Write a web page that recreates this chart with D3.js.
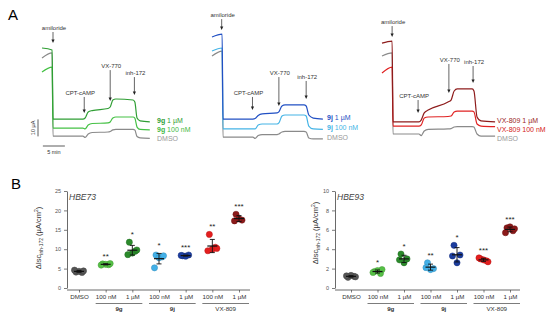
<!DOCTYPE html>
<html lang="en">
<head>
<meta charset="UTF-8">
<title>Isc traces and inh-172 sensitive currents</title>
<script src="https://cdn.jsdelivr.net/npm/d3@7"></script>
<style>
    body { margin: 0; background: #fff; }
    text { font-family: Arial, "Liberation Sans", sans-serif; }
</style>
</head>
<body>
<script>
    // ---- panel A : traces, time in min, current in uA ----
    var times9g = [0, 2.3, 2.5, 9.3, 9.8, 10.5, 11.4, 15, 15.5, 16.1, 16.8, 20.7, 21.1, 21.6, 22.3, 24.5];
    var cur9g1 = [60, 58.8, 18.2, 18.2, 18.8, 22.4, 23.2, 24.4, 25.3, 29.4, 30, 29.4, 28.2, 18.8, 17.1, 16.5];
    var cur9g100 = [45.9, 48.8, 12.9, 12.9, 12.4, 14.7, 15.6, 15.9, 16.5, 18.8, 19.4, 19.4, 18.8, 13.5, 12.1, 11.8];
    var curDmso9g = [54.1, 57.1, 8.2, 8.2, 7.4, 9.4, 10.3, 10.6, 10.9, 11.8, 12.1, 12.1, 11.8, 7.9, 7.1, 6.8];

    var times9j = [0, 2.3, 2.5, 9.3, 9.8, 10.5, 11.4, 14.8, 15.2, 15.9, 16.6, 20.9, 21.4, 22, 23, 25.2];
    var cur9j1 = [66.5, 68.2, 18.2, 18.2, 18.5, 20.3, 21.2, 21.8, 22.4, 25.9, 26.5, 26.5, 25.9, 20.6, 18.8, 18.2];
    var cur9j100 = [58.2, 60, 12.4, 12.4, 12.4, 14.7, 15.3, 15.3, 15.9, 20, 20.6, 20.6, 20, 14.1, 12.4, 12.1];
    var curDmso9j = [55.3, 58.2, 7.6, 7.6, 6.8, 8.5, 9.1, 9.1, 9.4, 10.6, 10.9, 10.9, 10.6, 7.1, 6.5, 6.5];

    var timesVx = [0, 2.3, 2.5, 8.4, 8.9, 9.6, 10.5, 15, 15.7, 16.4, 17.1, 20.5, 20.9, 21.6, 22.5, 25.7];
    var curVx1 = [62.9, 64.1, 16.5, 16.5, 17.6, 21.8, 23.5, 28.2, 29.4, 34.7, 35.9, 35.9, 34.7, 19.4, 17.1, 16.5];
    var curVx100 = [45.3, 48.8, 14.1, 14.1, 14.7, 18.8, 19.4, 19.7, 20, 22.4, 22.9, 22.9, 22.4, 15.3, 14.1, 13.8];
    var curDmsoVx = [55.3, 57.1, 9.4, 9.4, 8.5, 11.2, 12.1, 12.4, 12.6, 13.5, 13.8, 13.8, 13.5, 9.4, 8.2, 8.2];

    // additions: time (min), arrow tip and tail (uA)
    var eventNames = ['amiloride', 'CPT-cAMP', 'VX-770', 'inh-172'];
    var events9g = [2.5, 9.6, 15.5, 21];
    var tips9g = [63, 21.8, 28.8, 32.4];
    var tails9g = [69.4, 31.2, 47, 42.9];
    var events9j = [2.2, 9.2, 15.2, 21.4];
    var tips9j = [70.6, 23.5, 25.9, 30];
    var tails9j = [77, 31.2, 42.9, 40.6];
    var eventsVx = [2.3, 8.2, 15.2, 20.7];
    var tipsVx = [66.5, 21.8, 33.5, 39.4];
    var tailsVx = [72.9, 29.4, 50.6, 49.4];

    // ---- panel B : delta Isc inh-172 (uA/cm2) ----
    var categories = ['DMSO', '100 nM', '1 \u00b5M', '100 nM', '1 \u00b5M', '100 nM', '1 \u00b5M'];
    var groupNames = ['9g', '9j', 'VX-809'];
    var hbe73 = [[4.1, 4.0, 4.3, 4.6, 4.4], [6.2, 6.0, 6.1, 5.9, 6.3], [11.8, 9.5, 9.0, 8.6, 9.8],
                 [8.5, 8.0, 7.8, 5.2, 8.3], [8.3, 8.5, 8.2, 8.4], [13.8, 10.5, 10.0, 9.6, 10.2], [19.0, 17.5, 17.8, 17.3]];
    var sig73 = ['', '**', '*', '*', '***', '**', '***'];
    var ticks73 = [0, 5, 10, 15, 20, 25];
    var hbe93 = [[1.1, 1.2, 1.3, 1.25, 1.15], [1.7, 1.5, 1.8, 1.6, 1.9], [3.5, 3.0, 2.6, 2.9],
                 [2.6, 2.0, 1.9, 2.1], [4.4, 3.4, 2.6, 3.3], [3.0, 2.8, 2.9, 3.1, 2.7], [6.2, 5.9, 6.3, 5.7, 6.1]];
    var sig93 = ['', '*', '*', '**', '*', '***', '***'];
    var ticks93 = [0, 2, 4, 6, 8, 10];

    var pointColors = ['#555555', '#55c045', '#2b8a2b', '#42b0e8', '#1c3d9e', '#e41e1e', '#8b1a1a'];

    var svg = d3.select('body').append('svg')
                .attr('width', 550)
                .attr('height', 320);

    svg.append('text').attr('x', 8).attr('y', 20).attr('font-size', 15).text('A');
    svg.append('text').attr('x', 11).attr('y', 189).attr('font-size', 15).text('B');

    //shared vertical scale for the traces, 10 uA = 17 px
    var yA = d3.scaleLinear().domain([0, 60]).range([150, 48]);

    var panelsA = [
        {x0: 42, times: times9g, traces: [cur9g1, cur9g100, curDmso9g],
         colors: ['#2f9e34', '#45c145', '#8a8a8a'], textColors: ['#2f9e34', '#3fb83f', '#999'],
         names: [['9g', ' 1 \u00b5M'], ['9g', ' 100 nM'], ['', 'DMSO']],
         ev: events9g, tips: tips9g, tails: tails9g, bar: true},
        {x0: 212, times: times9j, traces: [cur9j1, cur9j100, curDmso9j],
         colors: ['#2150c4', '#45b4e6', '#8a8a8a'], textColors: ['#2150c4', '#45b4e6', '#999'],
         names: [['9j', ' 1 \u00b5M'], ['9j', ' 100 nM'], ['', 'DMSO']],
         ev: events9j, tips: tips9j, tails: tails9j, bar: false},
        {x0: 382, times: timesVx, traces: [curVx1, curVx100, curDmsoVx],
         colors: ['#8e1c1c', '#e02222', '#8a8a8a'], textColors: ['#9a1e1e', '#d42020', '#999'],
         names: [['', 'VX-809 1 \u00b5M'], ['', 'VX-809 100 nM'], ['', 'DMSO']],
         ev: eventsVx, tips: tipsVx, tails: tailsVx, bar: false}
    ];

    panelsA.forEach(function(p) {
        // 5 min = 22 px
        var x = d3.scaleLinear().domain([0, 25]).range([p.x0, p.x0 + 110]);
        var g = svg.append('g');

        // draw grey first so coloured traces sit on top
        [2, 1, 0].forEach(function(k) {
            var pts = p.times.map(function(t, i) { return [t, p.traces[k][i]]; });
            var line = d3.line()
                .x(function(d) { return x(d[0]); })
                .y(function(d) { return yA(d[1]); })
                .curve(d3.curveMonotoneX);
            g.append('path')
                .attr('d', line(pts))
                .attr('fill', 'none')
                .attr('stroke', p.colors[k])
                .attr('stroke-width', 1.2);
        });

        //labels at the end of each trace
        var lastY = -100;
        p.traces.forEach(function(tr, k) {
            var ly = Math.max(yA(tr[tr.length - 1]) - 1.5, lastY + 9);
            lastY = ly;
            var t = g.append('text')
                .attr('x', p.x0 + 115)
                .attr('y', ly + 2.5)
                .attr('font-size', 7)
                .attr('fill', p.textColors[k]);
            if (p.names[k][0]) {
                t.append('tspan').attr('font-weight', 'bold').text(p.names[k][0]);
            }
            t.append('tspan').text(p.names[k][1]);
        });

        //arrows for each addition
        p.ev.forEach(function(t, i) {
            var ax = x(t);
            var y1 = yA(p.tails[i]);
            var y2 = yA(p.tips[i]);
            g.append('line')
                .attr('x1', ax).attr('x2', ax)
                .attr('y1', y1).attr('y2', y2 - 2)
                .attr('stroke', '#222').attr('stroke-width', 0.7);
            g.append('path')
                .attr('d', 'M' + (ax - 1.6) + ',' + (y2 - 3.5) + 'L' + (ax + 1.6) + ',' + (y2 - 3.5) + 'L' + ax + ',' + y2 + 'Z')
                .attr('fill', '#222');
            g.append('text')
                .attr('x', ax + (i === 1 ? -4 : 1))
                .attr('y', y1 - 2)
                .attr('text-anchor', 'middle')
                .attr('font-size', 6)
                .attr('fill', '#333')
                .text(eventNames[i]);
        });

        //scale bars
        if (p.bar) {
            g.append('line')
                .attr('x1', 38).attr('x2', 38)
                .attr('y1', yA(8)).attr('y2', yA(18))
                .attr('stroke', '#333').attr('stroke-width', 0.8);
            g.append('text')
                .attr('transform', 'translate(35,' + yA(13) + ') rotate(-90)')
                .attr('text-anchor', 'middle')
                .attr('font-size', 5.5)
                .attr('fill', '#333')
                .text('10 \u00b5A');
            g.append('line')
                .attr('x1', x(0.2)).attr('x2', x(5.2))
                .attr('y1', 146).attr('y2', 146)
                .attr('stroke', '#333').attr('stroke-width', 0.8);
            g.append('text')
                .attr('x', (x(0.2) + x(5.2)) / 2)
                .attr('y', 154)
                .attr('text-anchor', 'middle')
                .attr('font-size', 5.5)
                .attr('fill', '#333')
                .text('5 min');
        }
    });

    // ---- panel B scatter plots ----
    var jitter = [-3, 3, 0, -4.5, 4.5];

    function drawScatter(vals, sig, ticks, title, axisX, axisEnd, catRange, labelX, labelY) {
        var g = svg.append('g');
        var y = d3.scaleLinear().domain([ticks[0], ticks[ticks.length - 1]]).range([288, 191]);
        var x = d3.scalePoint().domain(d3.range(categories.length)).range(catRange);

        //y axis
        var ya = g.append('g')
            .attr('transform', 'translate(' + axisX + ',0)')
            .call(d3.axisLeft(y).tickValues(ticks).tickSize(3).tickSizeOuter(0).tickPadding(3));
        ya.select('.domain').attr('stroke', '#444').attr('stroke-width', 0.8);
        ya.selectAll('.tick line').attr('stroke', '#444').attr('stroke-width', 0.7);
        ya.selectAll('.tick text').attr('font-size', 5.5).attr('fill', '#555')
            .attr('font-family', 'Arial, "Liberation Sans", sans-serif');

        //x axis line and ticks
        g.append('line')
            .attr('x1', axisX).attr('x2', axisEnd)
            .attr('y1', 290).attr('y2', 290)
            .attr('stroke', '#444').attr('stroke-width', 0.8);
        var xa = g.append('g')
            .attr('transform', 'translate(0,290)')
            .call(d3.axisBottom(x).tickSize(2.5).tickFormat(function(i) { return categories[i]; }).tickPadding(2.5));
        xa.select('.domain').remove();
        xa.selectAll('.tick line').attr('stroke', '#444').attr('stroke-width', 0.7);
        xa.selectAll('.tick text').attr('font-size', 6.2).attr('fill', '#333')
            .attr('font-family', 'Arial, "Liberation Sans", sans-serif');

        //group underline + names
        groupNames.forEach(function(name, k) {
            var a = x(1 + 2 * k) - 10, b = x(2 + 2 * k) + 10;
            g.append('line')
                .attr('x1', a).attr('x2', b)
                .attr('y1', 303.5).attr('y2', 303.5)
                .attr('stroke', '#444').attr('stroke-width', 0.7);
            g.append('text')
                .attr('x', (a + b) / 2)
                .attr('y', 311)
                .attr('text-anchor', 'middle')
                .attr('font-size', 6.2)
                .attr('font-weight', name === 'VX-809' ? 'normal' : 'bold')
                .attr('fill', '#333')
                .text(name);
        });

        //points, mean and sd
        vals.forEach(function(v, i) {
            var cx = x(i);
            var m = d3.mean(v), sd = d3.deviation(v);
            g.selectAll(null)
                .data(v)
                .enter()
                .append('circle')
                .attr('cx', function(d, j) { return cx + jitter[j]; })
                .attr('cy', function(d) { return y(d); })
                .attr('r', 3.1)
                .attr('fill', pointColors[i])
                .attr('stroke', d3.color(pointColors[i]).darker(0.6))
                .attr('stroke-width', 0.5);
            g.append('line')
                .attr('x1', cx).attr('x2', cx)
                .attr('y1', y(m - sd)).attr('y2', y(m + sd))
                .attr('stroke', '#111').attr('stroke-width', 0.9);
            [m - sd, m + sd].forEach(function(e) {
                g.append('line')
                    .attr('x1', cx - 2.5).attr('x2', cx + 2.5)
                    .attr('y1', y(e)).attr('y2', y(e))
                    .attr('stroke', '#111').attr('stroke-width', 0.9);
            });
            g.append('line')
                .attr('x1', cx - 5).attr('x2', cx + 5)
                .attr('y1', y(m)).attr('y2', y(m))
                .attr('stroke', '#111').attr('stroke-width', 1.2);
            if (sig[i]) {
                var top = Math.min(y(d3.max(v)), y(m + sd));
                g.append('text')
                    .attr('x', cx)
                    .attr('y', top - 9 + 4)
                    .attr('text-anchor', 'middle')
                    .attr('font-size', 8)
                    .attr('fill', '#222')
                    .text(sig[i]);
            }
        });

        //title
        g.append('text')
            .attr('x', axisX + 2)
            .attr('y', 200)
            .attr('font-size', 8.5)
            .attr('font-style', 'italic')
            .attr('fill', '#444')
            .text(title);

        //y label
        var lab = g.append('text')
            .attr('transform', 'translate(' + labelX + ',' + labelY + ') rotate(-90)')
            .attr('text-anchor', 'middle')
            .attr('font-size', 7.5)
            .attr('fill', '#333');
        lab.append('tspan').text('\u0394Isc');
        lab.append('tspan').attr('font-size', 5).attr('dy', 1.7).text('inh-172');
        lab.append('tspan').attr('dy', -1.7).text(' (\u00b5A/cm');
        lab.append('tspan').attr('font-size', 5).attr('dy', -3).text('2');
        lab.append('tspan').attr('dy', 3).text(')');
    }

    drawScatter(hbe73, sig73, ticks73, 'HBE73', 67, 250, [79, 239], 41, 238);
    drawScatter(hbe93, sig93, ticks93, 'HBE93', 335, 520, [351, 510], 318, 233);
</script>
</body>
</html>
